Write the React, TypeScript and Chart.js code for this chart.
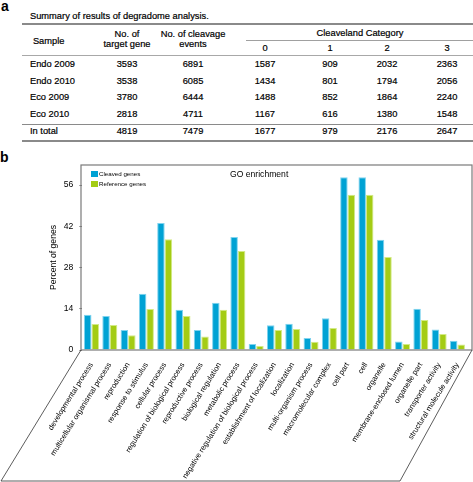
import React, { useEffect, useRef } from "react";
import { Chart, registerables } from "chart.js";

Chart.register(...registerables);

const FONT = '"Liberation Sans", Arial, Helvetica, sans-serif';

// ---- Table (part a) ----
const TABLE_TITLE = "Summary of results of degradome analysis.";
const SAMPLES = ["Endo 2009", "Endo 2010", "Eco 2009", "Eco 2010"];
const TARGET_GENES = [3593, 3538, 3780, 2818];
const CLEAVAGE_EVENTS = [6891, 6085, 6444, 4711];
const CAT0 = [1587, 1434, 1488, 1167];
const CAT1 = [909, 801, 852, 616];
const CAT2 = [2032, 1794, 1864, 1380];
const CAT3 = [2363, 2056, 2240, 1548];
const TOTAL_ROW = ["In total", "4819", "7479", "1677", "979", "2176", "2647"];
const CATEGORY_HEADERS = ["0", "1", "2", "3"];

// ---- Chart (part b) ----
const CHART_TITLE = "GO enrichment";
const Y_TITLE = "Percent of genes";
const SERIES_NAMES = ["Cleaved genes", "Reference genes"];
const Y_TICKS = [0, 14, 28, 42, 56];
const CATEGORIES = [
  "developmental process",
  "multicellular organismal process",
  "reproduction",
  "response to stimulus",
  "cellular process",
  "regulation of biological process",
  "reproductive process",
  "biological regulation",
  "metabolic process",
  "negative regulation of biological process",
  "establishment of localization",
  "localization",
  "multi-organism process",
  "macromolecular complex",
  "cell part",
  "cell",
  "organelle",
  "membrane-enclosed lumen",
  "organelle part",
  "transporter activity",
  "structural molecule activity",
];
const CLEAVED = [12.0, 11.5, 6.8, 19.1, 43.1, 13.7, 6.8, 16.0, 38.4, 2.0, 8.4, 8.9, 4.1, 10.8, 58.6, 58.6, 37.4, 2.9, 14.0, 7.0, 3.1];
const REFERENCE = [8.8, 8.5, 5.0, 13.9, 37.6, 11.5, 4.6, 13.7, 33.6, 1.4, 6.8, 7.1, 2.8, 7.5, 52.7, 52.7, 31.6, 2.0, 10.2, 5.4, 1.9];

const BLUE = "#00a2d4";
const BLUE_EDGE = "#7fd3ef";
const GREEN = "#a4cc14";
const GREEN_EDGE = "#d3ea86";

const framePlugin = {
  id: "frame",
  afterDraw(chart: any) {
    const ctx = chart.ctx;
    const { left, right, top, bottom } = chart.chartArea;
    const bl = left - 1.35;
    const br = right + 5.4;
    ctx.save();
    ctx.strokeStyle = "#7a7a7a";
    ctx.lineWidth = 1.2;
    ctx.strokeRect(bl, top, br - bl, bottom - top);
    ctx.strokeStyle = "#333";
    ctx.lineWidth = 0.8;
    ctx.beginPath();
    ctx.moveTo(bl, bottom);
    ctx.lineTo(1, chart.height - 1);
    ctx.lineTo(400, chart.height - 1);
    ctx.lineTo(br, bottom);
    ctx.stroke();
    // title
    ctx.fillStyle = "#000";
    ctx.textBaseline = "middle";
    ctx.textAlign = "left";
    ctx.font = `8.6px ${FONT}`;
    ctx.fillText(CHART_TITLE, bl + 149, top + 9.5);
    // legend
    const colors = [BLUE, GREEN];
    ctx.font = `6.2px ${FONT}`;
    SERIES_NAMES.forEach((name, i) => {
      const y = top + 9 + i * 10;
      ctx.fillStyle = colors[i];
      ctx.fillRect(bl + 10, y - 3, 7, 6);
      ctx.fillStyle = "#000";
      ctx.fillText(name, bl + 18, y);
    });
    ctx.restore();
  },
};

function BarChart() {
  const ref = useRef<HTMLCanvasElement | null>(null);
  useEffect(() => {
    if (!ref.current) return;
    const chart = new Chart(ref.current, {
      type: "bar",
      data: {
        labels: CATEGORIES,
        datasets: [
          {
            label: SERIES_NAMES[0],
            data: CLEAVED,
            backgroundColor: BLUE,
            borderColor: BLUE_EDGE,
            borderWidth: 1,
            borderSkipped: "bottom",
          },
          {
            label: SERIES_NAMES[1],
            data: REFERENCE,
            backgroundColor: GREEN,
            borderColor: GREEN_EDGE,
            borderWidth: 1,
            borderSkipped: "bottom",
          },
        ],
      },
      options: {
        animation: false,
        responsive: true,
        maintainAspectRatio: false,
        layout: { padding: { top: 15, right: 6.4, left: 0, bottom: 0 } },
        datasets: { bar: { categoryPercentage: 0.82, barPercentage: 1.0 } },
        plugins: {
          legend: { display: false },
          title: { display: false },
          tooltip: { enabled: false },
        },
        scales: {
          x: {
            offset: true,
            grid: { display: false },
            border: { display: false },
            afterFit: (s: any) => {
              s.height = 132;
            },
            ticks: {
              autoSkip: false,
              maxRotation: 58,
              minRotation: 58,
              padding: 3,
              color: "#000",
              font: { family: FONT, size: 7.6 },
            },
          },
          y: {
            min: 0,
            max: 62.8,
            afterBuildTicks: (s: any) => {
              s.ticks = Y_TICKS.map((v) => ({ value: v }));
            },
            afterFit: (s: any) => {
              s.width = 82.35;
            },
            grid: { drawOnChartArea: false, drawTicks: true, tickLength: 3, color: "#808080" },
            border: { display: false },
            ticks: { color: "#000", padding: 6, font: { family: FONT, size: 8.6 } },
            title: {
              display: true,
              text: Y_TITLE,
              color: "#000",
              font: { family: FONT, size: 8.6 },
              padding: { top: 48, bottom: 0 },
            },
          },
        },
      },
      plugins: [framePlugin],
    });
    return () => chart.destroy();
  }, []);
  return <canvas ref={ref} />;
}

function T(props: { x: number; y: number; align?: "left" | "center"; size?: number; bold?: boolean; children: React.ReactNode }) {
  const { x, y, align = "center", size = 9.3, bold = false } = props;
  return (
    <div
      style={{
        position: "absolute",
        left: x,
        top: y,
        transform: align === "center" ? "translate(-50%, -50%)" : "translate(0, -50%)",
        whiteSpace: "nowrap",
        fontFamily: FONT,
        fontSize: size,
        fontWeight: bold ? 700 : 400,
        lineHeight: 1,
        color: "#000",
        WebkitTextStroke: bold ? undefined : "0.2px #000",
      }}
    >
      {props.children}
    </div>
  );
}

function HLine(props: { x1: number; x2: number; y: number; w: number; color: string }) {
  return (
    <div
      style={{
        position: "absolute",
        left: props.x1,
        top: props.y - props.w / 2,
        width: props.x2 - props.x1,
        height: props.w,
        background: props.color,
      }}
    />
  );
}

export default function App() {
  const colX = [127, 193, 265, 330, 387, 447];
  const rowY = [65.3, 81.8, 98.2, 114.6];
  const rows = SAMPLES.map((s, i) => [s, TARGET_GENES[i], CLEAVAGE_EVENTS[i], CAT0[i], CAT1[i], CAT2[i], CAT3[i]]);
  return (
    <div style={{ position: "absolute", left: 0, top: 0, width: 473, height: 482, background: "#fff", overflow: "hidden" }}>
      <T x={1} y={6} align="left" size={14} bold>
        a
      </T>
      <T x={30} y={16.5} align="left">
        {TABLE_TITLE}
      </T>
      <HLine x1={22} x2={473} y={23.5} w={2} color="#8a8a8a" />
      <T x={48.7} y={41.5}>Sample</T>
      <T x={colX[0]} y={35}>No. of</T>
      <T x={colX[0]} y={44.5}>target gene</T>
      <T x={colX[1]} y={35}>No. of cleavage</T>
      <T x={colX[1]} y={44.5}>events</T>
      <T x={360} y={33.5}>Cleaveland Category</T>
      <HLine x1={246} x2={473} y={40.5} w={1} color="#a0a0a0" />
      {CATEGORY_HEADERS.map((h, i) => (
        <T key={h} x={colX[2 + i]} y={48.7}>
          {h}
        </T>
      ))}
      <HLine x1={22} x2={473} y={55} w={1} color="#a8a8a8" />
      {rows.map((r, ri) => (
        <React.Fragment key={ri}>
          <T x={30} y={rowY[ri]} align="left">
            {r[0]}
          </T>
          {r.slice(1).map((v, ci) => (
            <T key={ci} x={colX[ci]} y={rowY[ri]}>
              {v}
            </T>
          ))}
        </React.Fragment>
      ))}
      <HLine x1={22} x2={473} y={124} w={1} color="#8a8a8a" />
      <T x={30} y={131.5} align="left">
        {TOTAL_ROW[0]}
      </T>
      {TOTAL_ROW.slice(1).map((v, ci) => (
        <T key={ci} x={colX[ci]} y={131.5}>
          {v}
        </T>
      ))}
      <HLine x1={22} x2={473} y={140.5} w={2} color="#8a8a8a" />
      <T x={0} y={157} align="left" size={14} bold>
        b
      </T>
      <div style={{ position: "absolute", left: 0, top: 150, width: 473, height: 332 }}>
        <BarChart />
      </div>
    </div>
  );
}
